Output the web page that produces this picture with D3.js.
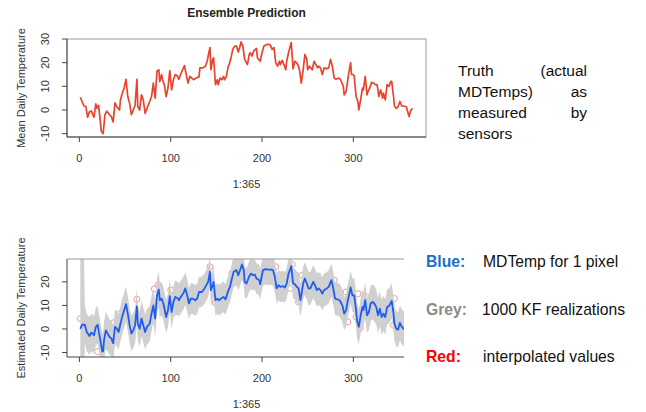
<!DOCTYPE html>
<html>
<head>
<meta charset="utf-8">
<script src="https://cdn.jsdelivr.net/npm/d3@7"></script>
<style>
  body { margin: 0; background: #fff; }
  svg { display: block; font-family: "Liberation Sans", Arial, sans-serif; }
</style>
</head>
<body>
<svg id="chart" width="646" height="412"></svg>
<script>
// truth (actual MDTemps)
const truthDays = [1,3,5,7,9,11,13,16,18,19,21,22,24,26,28,30,33,35,37,39,41,44,45,47,49,51,53,55,57,59,61,63,64,66,68,70,72,74,77,79,81,83,85,87,88,90,91,93,95,97,99,101,103,105,107,109,110,113,115,117,119,121,123,125,128,131,132,135,138,140,141,143,144,146,147,149,151,152,154,156,158,159,161,163,164,166,168,170,172,174,176,177,179,181,184,186,187,189,191,194,195,198,200,202,206,209,211,213,215,217,219,220,222,224,226,227,229,232,234,236,238,240,241,243,245,247,249,250,252,255,257,259,261,262,264,266,268,271,273,275,277,279,281,284,286,289,290,292,293,295,297,298,300,301,303,305,306,308,310,311,313,315,316,318,320,322,324,326,328,330,332,333,335,337,339,341,342,344,345,347,349,351,353,355,358,359,361,363,365];
const truthTemps = [5.4,3.5,1.7,1.5,-3,-0.7,-0.4,-3,2.6,0.7,2,-1.4,-9,-10,-2,-0.5,-2,-2.8,-5,3,1.4,0,4.3,7.1,9.3,13,5.7,2.8,-2,0,2,13,1.4,0,6.4,4.3,-1.4,0.7,3.6,5.7,11.4,5,16.4,17,12,15,12.8,10.7,5.7,9.3,16.7,8.5,12.8,15,14.5,13,14.2,17,18.8,15,11.4,14.2,13.5,12.8,13.5,14,17.8,17.8,18.5,20.7,22.8,26.4,17,21.4,22.1,10.7,12.8,10.7,13.5,12.8,14.2,12.8,14.2,18.5,19.2,22,25.6,27,27,24.5,27,28.8,27,21.4,19.2,23.5,24.2,22.8,25,26,22,20.6,24.2,27,27.8,27.5,25.6,26.4,20,18.5,20.6,19.2,21,19.2,17,20.6,24.2,28.5,17.4,20.6,19.9,18.5,17,11.4,17,23.5,21.4,17,18.5,17,20.6,19.2,17.8,18.5,17.8,15,17.8,17.4,17.8,21.4,18.5,13.5,13,13.5,12.8,10,6.4,7.8,10.2,15.7,20,15,15,14.2,5.7,3.6,0,4.3,9.3,8.5,14.2,6.4,7.8,9.3,11.7,11.4,10.7,10.7,5.7,8.5,5,7.1,4.3,10.7,10,12.1,12.1,5.7,1.7,0.7,1.4,3.6,1.7,1.7,1.4,0,-2.8,0,0.7];

// estimated MDTemp for 1 pixel (blue)
const estDays = [1,3,6,8,11,13,15,16,18,20,21,23,25,26,27,29,31,33,35,37,39,41,43,45,47,49,51,53,55,57,59,61,63,64,66,68,70,72,74,77,79,81,83,85,87,88,90,92,95,97,99,101,103,105,108,109,111,114,116,118,120,122,124,127,129,131,134,137,139,141,143,144,146,147,149,151,153,155,158,160,162,164,165,167,169,172,174,176,178,180,181,183,186,188,190,192,194,197,198,201,204,207,210,212,214,216,218,220,223,225,227,229,231,232,234,236,238,240,242,243,245,247,249,251,253,256,258,260,262,264,266,268,271,273,276,278,280,283,285,288,290,292,294,296,297,299,301,303,304,306,308,310,311,313,315,317,319,321,323,325,327,329,331,333,335,337,339,342,344,345,347,349,351,353,355,358,361,363,365];
const estTemps = [0,1.8,1.8,-1.3,-3,-1.6,-2,-2.7,0.9,1.8,-0.6,-4.8,-9.6,-9.4,-4.8,-0.6,-2,-3.4,-4,-6,0.9,0.1,-1.3,2.3,5.4,7.9,10.5,6.5,1.6,-2,-0.6,1.6,9.6,2.3,0.1,4.4,1.6,-1.3,0.9,2.3,6.5,10,4.4,14.3,16.7,12.2,12.9,10.8,5.1,7.9,13.9,7.2,11.5,13.6,12.9,12.2,13.6,15.3,17.2,14.3,10.8,12.9,12.9,12.2,12.9,15.7,15.7,17.2,18.6,20,24.3,16.5,18.6,20,12.2,12.9,12.2,12.9,13.6,12.5,15,17.2,17.9,21.4,24.3,25,22.8,25,27.4,25,20,19.3,22.4,23.5,22.8,23.1,21.4,20.7,19,25,25.4,25.2,25.2,25,22.2,17.2,18.6,17.9,18.2,17.6,19.3,23.5,25.5,26.7,19.3,19,17.9,17.2,12.2,14.3,19.3,21.4,19.3,17.2,17.2,20,18.6,16.5,17.2,16.5,15,16.5,17.2,17.9,20.7,17.2,12.9,12.5,12.2,10,6.5,7.9,12.2,15.7,17.6,14.3,14.3,7.9,3.7,0.9,5.8,9.4,8,12.2,5.8,7.2,10.8,11.5,10.8,9.4,5.8,8.6,5.1,6.5,5.1,9.4,9.7,11.9,6.5,2.3,0.1,-0.3,2.6,0.9,0.1,0.5,-0.6,0.1,0.5];

// half-width of the grey KF realization envelope
const spreadDays = [1,3,6,30,60,90,120,150,180,210,240,270,300,330];
const spreadVals = [70,70,8,7.5,7.5,7,6.5,6.5,6.5,6.5,7,7,7.5,7.5];

// interpolated values (red circles)
const interpDays = [1,20,24,37,45,63,82,84,86,100,105,131,143,149,167,215,231,233,240,244,279,292,294,303,305,307,314,336,344,345];
const interpTemps = [4.4,-9.6,-5,2.6,6.7,12.6,17,11,18.6,16.5,7.2,17.9,26.4,11,23.7,26.4,17.2,27.4,11.5,22.8,20.7,15.7,3,5.1,15,0.2,13.6,10.9,1.6,12.9];

const xTicks = [0, 100, 200, 300];
const yTicksTop = [-10, 0, 10, 20, 30];
const yTicksBot = [-10, 0, 10, 20];

const svg = d3.select("#chart");
const left = 67, right = 426;
const x = d3.scaleLinear().domain([-13.56, 379.56]).range([left, right]);

const truth = truthDays.map((d, i) => ({ day: d, v: truthTemps[i] }));
const spreadAt = day => spreadVals[Math.max(0, d3.bisectRight(spreadDays, day) - 1)];
const est = estDays.map((d, i) => ({ day: d, v: estTemps[i], s: spreadAt(d) }));
const interp = interpDays.map((d, i) => ({ day: d, v: interpTemps[i] }));

function axes(g, y, top, bottom, yTicks, xEnd) {
  // x axis
  g.append("line").attr("x1", left).attr("x2", xEnd).attr("y1", bottom).attr("y2", bottom)
    .attr("stroke", "#444");
  g.selectAll(".xt").data(xTicks).join("line")
    .attr("x1", d => x(d)).attr("x2", d => x(d))
    .attr("y1", bottom).attr("y2", bottom + 5).attr("stroke", "#444");
  g.selectAll(".xl").data(xTicks).join("text")
    .attr("x", d => x(d)).attr("y", bottom + 25)
    .attr("text-anchor", "middle").attr("font-size", 11).attr("fill", "#333")
    .text(d => d);
  // y axis
  g.append("line").attr("x1", left).attr("x2", left).attr("y1", top).attr("y2", bottom)
    .attr("stroke", "#444");
  g.selectAll(".yt").data(yTicks).join("line")
    .attr("x1", left - 5).attr("x2", left)
    .attr("y1", d => y(d)).attr("y2", d => y(d)).attr("stroke", "#444");
  g.selectAll(".yl").data(yTicks).join("text")
    .attr("transform", d => `translate(49,${y(d)}) rotate(-90)`)
    .attr("text-anchor", "middle").attr("font-size", 11).attr("fill", "#333")
    .text(d => d);
}

// ---------- upper panel ----------
const topY = 39, topB = 137;
const yTop = d3.scaleLinear().domain([-11.4, 30]).range([topB, topY]);
const g1 = svg.append("g");

g1.append("text").attr("x", (left + right) / 2).attr("y", 17)
  .attr("text-anchor", "middle").attr("font-size", 12).attr("font-weight", "bold")
  .attr("fill", "#222").text("Ensemble Prediction");

g1.append("rect").attr("x", left).attr("y", topY).attr("width", right - left).attr("height", topB - topY)
  .attr("fill", "none").attr("stroke", "#999");

g1.append("path").datum(truth)
  .attr("fill", "none").attr("stroke", "#e8432d").attr("stroke-width", 1.7)
  .attr("stroke-linejoin", "round")
  .attr("d", d3.line().x(d => x(d.day)).y(d => yTop(d.v)));

axes(g1, yTop, topY, topB, yTicksTop, right);

g1.append("text").attr("transform", `translate(25,${(topY + topB) / 2}) rotate(-90)`)
  .attr("text-anchor", "middle").attr("font-size", 11).attr("fill", "#333")
  .text("Mean Daily Temperature");
g1.append("text").attr("x", (left + right) / 2).attr("y", 188)
  .attr("text-anchor", "middle").attr("font-size", 11).attr("fill", "#333").text("1:365");

// ---------- lower panel ----------
const botY = 259, botB = 357, clipR = 404;
const yBot = d3.scaleLinear().domain([-11.9, 29.7]).range([botB, botY]);
const g2 = svg.append("g");

svg.append("defs").append("clipPath").attr("id", "clipBot")
  .append("rect").attr("x", left).attr("y", botY).attr("width", clipR - left).attr("height", botB - botY);

const plot = g2.append("g").attr("clip-path", "url(#clipBot)");

plot.selectAll("circle").data(interp).join("circle")
  .attr("cx", d => x(d.day)).attr("cy", d => yBot(d.v)).attr("r", 3)
  .attr("fill", "none").attr("stroke", "#f39a90").attr("stroke-width", 1);

plot.append("path").datum(est)
  .attr("fill", "#d0d0d0")
  .attr("d", d3.area().x(d => x(d.day)).y0(d => yBot(d.v - d.s)).y1(d => yBot(d.v + d.s)));

plot.append("path").datum(est)
  .attr("fill", "none").attr("stroke", "#1f5cf0").attr("stroke-width", 1.8)
  .attr("stroke-linejoin", "round")
  .attr("d", d3.line().x(d => x(d.day)).y(d => yBot(d.v)));

g2.append("line").attr("x1", left).attr("x2", clipR).attr("y1", botY).attr("y2", botY)
  .attr("stroke", "#999");

axes(g2, yBot, botY, botB, yTicksBot, clipR);

g2.append("text").attr("transform", `translate(25,${(botY + botB) / 2}) rotate(-90)`)
  .attr("text-anchor", "middle").attr("font-size", 11).attr("fill", "#333")
  .text("Estimated Daily Temperature");
g2.append("text").attr("x", (left + right) / 2).attr("y", 408)
  .attr("text-anchor", "middle").attr("font-size", 11).attr("fill", "#333").text("1:365");

// ---------- side notes ----------
const note = svg.append("g").attr("font-size", 15.5).attr("fill", "#111");
const noteLines = [["Truth", "(actual"], ["MDTemps)", "as"], ["measured", "by"], ["sensors", ""]];
noteLines.forEach((w, i) => {
  const yy = 76 + i * 21;
  note.append("text").attr("x", 458).attr("y", yy).text(w[0]);
  if (w[1]) note.append("text").attr("x", 587).attr("y", yy).attr("text-anchor", "end").text(w[1]);
});

const legend = [
  { key: "Blue:", color: "#1a6fc6", text: "MDTemp for 1 pixel", tx: 483, y: 267 },
  { key: "Grey:", color: "#8a8a8a", text: "1000 KF realizations", tx: 482, y: 315 },
  { key: "Red:", color: "#ff0000", text: "interpolated values", tx: 483, y: 362 }
];
const lg = svg.append("g").attr("font-size", 15.7);
legend.forEach(l => {
  lg.append("text").attr("x", 426).attr("y", l.y).attr("font-weight", "bold")
    .attr("fill", l.color).text(l.key);
  lg.append("text").attr("x", l.tx).attr("y", l.y).attr("fill", "#111").text(l.text);
});
</script>
</body>
</html>
